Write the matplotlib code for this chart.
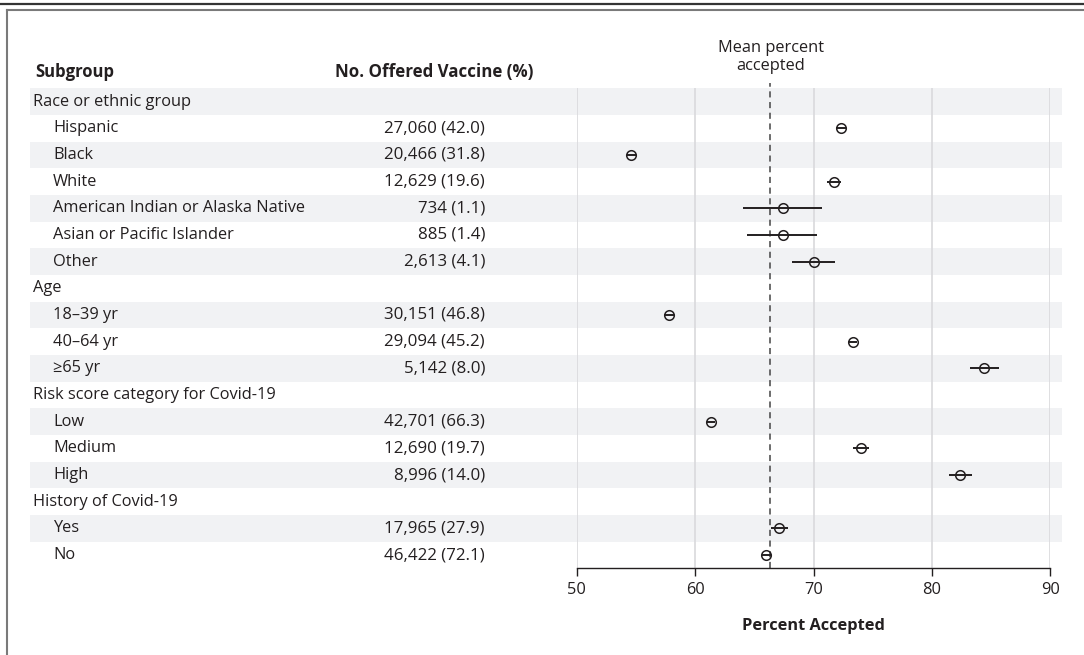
import numpy as np
import matplotlib
matplotlib.use("Agg")
import matplotlib.pyplot as plt

# ── data ────────────────────────────────────────────────────────────────
labels = ["Race or ethnic group", "Hispanic", "Black", "White",
          "American Indian or Alaska Native", "Asian or Pacific Islander", "Other",
          "Age", "18\u201339 yr", "40\u201364 yr", "\u226565 yr",
          "Risk score category for Covid-19", "Low", "Medium", "High",
          "History of Covid-19", "Yes", "No"]
is_group = [True, False, False, False, False, False, False,
            True, False, False, False,
            True, False, False, False,
            True, False, False]
n_offered = [None, 27060, 20466, 12629, 734, 885, 2613,
             None, 30151, 29094, 5142,
             None, 42701, 12690, 8996,
             None, 17965, 46422]
pct_offered = [None, 42.0, 31.8, 19.6, 1.1, 1.4, 4.1,
               None, 46.8, 45.2, 8.0,
               None, 66.3, 19.7, 14.0,
               None, 27.9, 72.1]
accepted = [np.nan, 72.3, 54.6, 71.7, 67.4, 67.4, 70.0,
            np.nan, 57.8, 73.3, 84.4,
            np.nan, 61.3, 74.0, 82.4,
            np.nan, 67.1, 66.0]
ci_low = [np.nan, 71.9, 54.2, 71.1, 64.0, 64.4, 68.2,
          np.nan, 57.4, 72.9, 83.2,
          np.nan, 61.0, 73.3, 81.4,
          np.nan, 66.4, 65.6]
ci_high = [np.nan, 72.7, 55.0, 72.3, 70.7, 70.3, 71.8,
           np.nan, 58.2, 73.7, 85.7,
           np.nan, 61.7, 74.7, 83.4,
           np.nan, 67.8, 66.4]
mean_accepted = 66.3
x_ticks = [50, 60, 70, 80, 90]

# ── style ───────────────────────────────────────────────────────────────
plt.rcParams["font.family"] = ["Open Sans", "DejaVu Sans"]
TXT = "#231f20"
BAND = "#f1f2f4"
GRID = "#d9d9dc"
FS = 11.8

W, H = 1084, 655
fig = plt.figure(figsize=(W / 100, H / 100), dpi=100)

n = len(labels)
row_top, row_h = 88.3, 26.67
ax_bottom = row_top + n * row_h
y_frac = 1 - ax_bottom / H
h_frac = n * row_h / H

# background axes in pixel x-units: bands and table text
bg = fig.add_axes([0, y_frac, 1, h_frac])
bg.set_xlim(0, W)
bg.set_ylim(n - 0.5, -0.5)
bg.axis("off")

y = np.arange(n)
for i in y[::2]:
    bg.axhspan(i - 0.5, i + 0.5, xmin=30 / W, xmax=1062 / W, color=BAND, lw=0, zorder=0)

for i, (lab, grp) in enumerate(zip(labels, is_group)):
    bg.text(33 if grp else 53, i, lab, ha="left", va="center", fontsize=FS, color=TXT)
    if n_offered[i] is not None:
        bg.text(485, i, f"{n_offered[i]:,} ({pct_offered[i]:.1f})", ha="right",
                va="center", fontsize=12.2, color=TXT)

fig.text(35 / W, 1 - 72 / H, "Subgroup", ha="left", va="center",
         fontsize=12, fontweight="bold", color=TXT)
fig.text(434 / W, 1 - 72 / H, "No. Offered Vaccine (%)", ha="center", va="center",
         fontsize=12.2, fontweight="bold", color=TXT)

# forest axes
x0, x1 = 576.8, 1050.4
ax = fig.add_axes([x0 / W, y_frac, (x1 - x0) / W, h_frac])
ax.patch.set_alpha(0)
ax.set_xlim(50, 90)
ax.set_ylim(n - 0.5, -0.5)
for s in ["top", "left", "right"]:
    ax.spines[s].set_visible(False)
ax.spines["bottom"].set_color(TXT)
ax.spines["bottom"].set_linewidth(1.0)
ax.set_yticks([])
ax.set_xticks(x_ticks)
ax.tick_params(axis="x", direction="out", length=6, width=1.0, color=TXT,
               labelsize=FS, labelcolor=TXT, pad=3.5)
for t in x_ticks:
    ax.axvline(t, color=GRID, lw=1.2, zorder=1)

ax.axvline(mean_accepted, ymin=0, ymax=1.011, color="#444444", lw=1.1,
           ls=(0, (4, 3)), zorder=2, clip_on=False)

acc = np.array(accepted)
err = np.vstack([acc - np.array(ci_low), np.array(ci_high) - acc])
ax.errorbar(acc, y, xerr=err, fmt="o", ms=6.9, mfc="none", mec=TXT, mew=1.1,
            ecolor=TXT, elinewidth=1.4, capsize=0, zorder=3)

ax.set_xlabel("Percent Accepted", fontsize=11.8, fontweight="bold", color=TXT, labelpad=15)

fig.text(771 / W, 1 - 57 / H, "Mean percent\naccepted", ha="center", va="center",
         fontsize=FS, color=TXT, linespacing=1.2)

# outer frame lines
fig.add_artist(plt.Line2D([0, 1], [1 - 4 / H, 1 - 4 / H], color="#333333", lw=1.6))
fig.add_artist(plt.Line2D([7 / W, 1], [1 - 10 / H, 1 - 10 / H], color="#7a7a7a", lw=1.5))
fig.add_artist(plt.Line2D([7 / W, 7 / W], [0, 1 - 10 / H], color="#7a7a7a", lw=1.5))

fig.savefig("out.png", dpi=100)
